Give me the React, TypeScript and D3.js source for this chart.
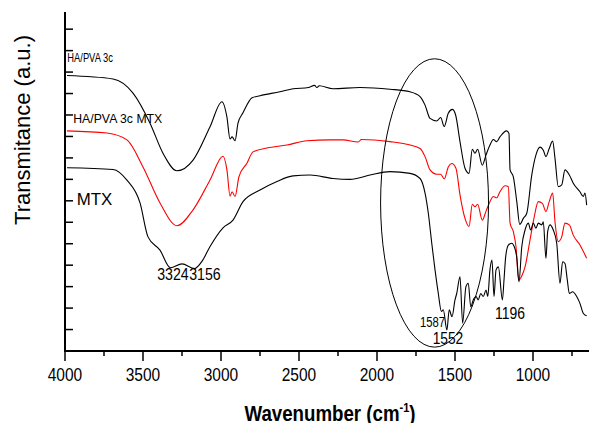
import React from "react";
import * as d3 from "d3";

type Pt = [number, number];

// wavenumber (cm-1), transmittance (a.u.)
const haPva3c: Pt[] = [
  [3987, 64.2], [3692, 63.4], [3564, 60.1], [3455, 53.1], [3372, 46.1], [3282, 42.0],
  [3179, 44.5], [3071, 52.2], [2994, 58.1], [2962, 54.5], [2942, 49.4], [2929, 49.9],
  [2910, 49.0], [2891, 53.1], [2859, 55.5], [2801, 59.0], [2750, 59.5], [2622, 60.4],
  [2538, 61.1], [2440, 61.4], [2400, 61.9], [2385, 61.4], [2370, 61.8], [2282, 61.1],
  [2109, 61.4], [1917, 61.0], [1788, 60.4], [1724, 59.3], [1692, 57.3], [1660, 54.2],
  [1617, 53.6], [1592, 54.4], [1569, 52.3], [1543, 55.4], [1517, 56.3], [1496, 55.0],
  [1468, 48.8], [1436, 42.6], [1410, 41.4], [1389, 47.0], [1372, 46.1], [1355, 47.0],
  [1325, 43.3], [1301, 45.7], [1276, 48.0], [1254, 49.3], [1233, 48.8], [1212, 49.9],
  [1169, 51.3], [1154, 50.7], [1147, 42.2], [1126, 40.6], [1104, 34.8], [1085, 29.5],
  [1062, 30.9], [1040, 32.1], [1008, 41.0], [981, 45.7], [955, 47.5], [934, 46.8],
  [917, 45.3], [896, 47.2], [874, 48.9], [859, 44.9], [838, 38.3], [816, 38.7],
  [795, 42.2], [767, 41.0], [742, 39.1], [699, 37.1], [678, 36.0], [667, 36.8], [656, 34.0],
];

const haPva3cMtx: Pt[] = [
  [3987, 51.3], [3731, 50.8], [3603, 49.2], [3500, 42.9], [3391, 34.5], [3282, 29.2],
  [3179, 32.9], [3071, 39.8], [2987, 45.4], [2962, 42.2], [2942, 36.1], [2929, 37.1],
  [2910, 36.0], [2885, 40.6], [2833, 43.8], [2795, 46.4], [2705, 47.3], [2577, 48.0],
  [2449, 49.0], [2300, 49.2], [2218, 49.2], [2120, 48.7], [2100, 49.3], [1917, 48.8],
  [1788, 48.0], [1724, 47.2], [1692, 45.3], [1660, 42.2], [1617, 41.2], [1592, 41.2],
  [1569, 40.1], [1543, 42.9], [1521, 43.7], [1494, 42.6], [1468, 36.4], [1436, 30.9],
  [1410, 29.0], [1389, 34.2], [1372, 33.6], [1355, 34.2], [1325, 30.5], [1301, 32.6],
  [1276, 34.8], [1254, 36.0], [1233, 35.7], [1212, 37.1], [1179, 38.5], [1158, 38.3],
  [1147, 29.8], [1126, 27.8], [1109, 24.3], [1092, 16.5], [1072, 17.5], [1051, 19.6],
  [1019, 25.9], [994, 30.9], [966, 34.8], [940, 34.4], [917, 32.5], [896, 34.8],
  [874, 36.8], [859, 30.1], [838, 25.5], [816, 26.6], [795, 29.8], [767, 29.4],
  [742, 27.0], [699, 24.7], [656, 21.6],
];

const mtx: Pt[] = [
  [3987, 42.7], [3692, 42.3], [3603, 39.8], [3519, 34.5], [3468, 26.6], [3391, 23.5],
  [3324, 19.4], [3250, 20.3], [3170, 19.2], [3120, 21.0], [3071, 24.3], [2987, 28.7],
  [2923, 30.5], [2859, 34.8], [2750, 37.5], [2641, 39.5], [2538, 40.8], [2429, 41.0],
  [2282, 40.2], [2173, 40.0], [2045, 41.0], [1917, 41.8], [1788, 41.4], [1724, 40.2],
  [1692, 36.8], [1671, 32.1], [1649, 25.1], [1628, 18.9], [1607, 13.4], [1587, 9.2],
  [1575, 9.6], [1552, 4.9], [1537, 9.6], [1519, 8.0], [1500, 11.9], [1489, 13.4],
  [1468, 17.3], [1451, 6.5], [1430, 15.0], [1415, 15.8], [1399, 10.3], [1383, 11.9],
  [1365, 12.7], [1351, 11.9], [1335, 13.4], [1319, 12.7], [1301, 14.2], [1290, 12.7],
  [1276, 18.9], [1263, 21.2], [1250, 12.7], [1237, 18.9], [1222, 19.6], [1196, 11.9],
  [1186, 16.5], [1175, 22.0], [1158, 24.7], [1137, 25.1], [1120, 24.3], [1104, 21.8],
  [1090, 16.1], [1072, 24.3], [1051, 28.2], [1030, 29.8], [1015, 28.2], [998, 29.8],
  [981, 28.6], [966, 29.8], [944, 29.4], [934, 30.1], [917, 21.6], [906, 27.8],
  [891, 29.4], [870, 28.2], [848, 25.1], [827, 15.8], [810, 20.8], [795, 20.4],
  [780, 16.5], [767, 13.4], [746, 13.8], [720, 12.7], [699, 11.1], [678, 8.8], [656, 8.2],
];

const xMajorTicks = [4000, 3500, 3000, 2500, 2000, 1500, 1000];
const xMinorTicks = [3750, 3250, 2750, 2250, 1750, 1250, 750];
const yTicks = [5, 10, 15, 20, 25, 30, 35, 40, 45, 50, 55, 60, 65, 70, 75];

const seriesLabels = [
  { text: "HA/PVA 3c", w: 3985, v: 67.4, size: 12, len: 45.5 },
  { text: "HA/PVA 3c MTX", w: 3947, v: 53.2, size: 13, len: 89 },
  { text: "MTX", w: 3925, v: 34.0, size: 16.5, len: 35.6 },
];

const peakLabels = [
  { text: "3324", w: 3308, v: 16.5, size: 16, len: 31.5 },
  { text: "3156", w: 3103, v: 16.5, size: 16, len: 31.5 },
  { text: "1587", w: 1644, v: 5.5, size: 14, len: 25 },
  { text: "1552", w: 1545, v: 1.6, size: 17, len: 30.6 },
  { text: "1196", w: 1147, v: 7.4, size: 17, len: 30 },
];

// highlighted region (ellipse) in data units
const ellipseCenter = { w: 1631, v: 34.5 };
const ellipseRadius = { w: 346, v: 33.6 };

const W = 589;
const H = 423;
const FONT = "'Liberation Sans', Arial, Helvetica, sans-serif";

export default function App() {
  const x = d3.scaleLinear().domain([4000, 650]).range([65, 587.6]);
  const y = d3.scaleLinear().domain([0, 79]).range([351, 12]);

  const line = d3
    .line<Pt>()
    .x((d) => x(d[0]))
    .y((d) => y(d[1]))
    .curve(d3.curveMonotoneX);

  const cx = x(ellipseCenter.w);
  const cy = y(ellipseCenter.v);
  const rx = Math.abs(x(ellipseCenter.w - ellipseRadius.w) - cx);
  const ry = Math.abs(y(ellipseCenter.v + ellipseRadius.v) - cy);

  const y0 = y(0);
  const x0 = x(4000);

  return (
    <svg
      width={W}
      height={H}
      viewBox={`0 0 ${W} ${H}`}
      style={{ position: "absolute", left: 0, top: 0, background: "#fff" }}
      fontFamily={FONT}
    >
      <rect width={W} height={H} fill="#fff" />

      {/* curves */}
      <path d={line(haPva3c) || ""} fill="none" stroke="#000" strokeWidth={1.1} />
      <path d={line(haPva3cMtx) || ""} fill="none" stroke="#ff0000" strokeWidth={1.1} />
      <path d={line(mtx) || ""} fill="none" stroke="#000" strokeWidth={1.1} />

      {/* ellipse */}
      <ellipse cx={cx} cy={cy} rx={rx} ry={ry} fill="none" stroke="#000" strokeWidth={1} />

      {/* axes */}
      <line x1={x0} x2={x0} y1={y(79)} y2={y0} stroke="#000" strokeWidth={2} />
      <line x1={x0 - 1} x2={589} y1={y0} y2={y0} stroke="#000" strokeWidth={2} />
      {yTicks.map((t) => (
        <line key={"yt" + t} x1={x0} x2={x0 + 8} y1={y(t)} y2={y(t)} stroke="#000" strokeWidth={1.5} />
      ))}
      {xMajorTicks.map((t) => (
        <line key={"xM" + t} x1={x(t)} x2={x(t)} y1={y0} y2={y0 + 10} stroke="#000" strokeWidth={1.5} />
      ))}
      {xMinorTicks.map((t) => (
        <line key={"xm" + t} x1={x(t)} x2={x(t)} y1={y0} y2={y0 + 5} stroke="#000" strokeWidth={1.5} />
      ))}
      {xMajorTicks.map((t) => (
        <text
          key={"xl" + t}
          x={x(t)}
          y={381}
          fontSize={17.5}
          textAnchor="middle"
          textLength={34.5}
          lengthAdjust="spacingAndGlyphs"
          fill="#000"
        >
          {t}
        </text>
      ))}

      {/* axis titles */}
      <text
        transform={`translate(29.5, 130) rotate(-90)`}
        fontSize={22}
        textAnchor="middle"
        textLength={190}
        lengthAdjust="spacingAndGlyphs"
        fill="#000"
      >
        Transmitance (a.u.)
      </text>
      <g transform="translate(330, 420.5) scale(0.85, 1)">
        <text x={0} y={0} fontSize={22} fontWeight="bold" textAnchor="middle" fill="#000">
          Wavenumber (cm
          <tspan fontSize={13} dy={-9}>-1</tspan>
          <tspan dy={9}>)</tspan>
        </text>
      </g>

      {/* series labels */}
      {seriesLabels.map((l) => (
        <text
          key={l.text}
          x={x(l.w)}
          y={y(l.v)}
          fontSize={l.size}
          textLength={l.len}
          lengthAdjust="spacingAndGlyphs"
          fill="#000"
        >
          {l.text}
        </text>
      ))}

      {/* peak labels */}
      {peakLabels.map((l) => (
        <text
          key={l.text}
          x={x(l.w)}
          y={y(l.v)}
          fontSize={l.size}
          textAnchor="middle"
          textLength={l.len}
          lengthAdjust="spacingAndGlyphs"
          fill="#000"
        >
          {l.text}
        </text>
      ))}
    </svg>
  );
}
